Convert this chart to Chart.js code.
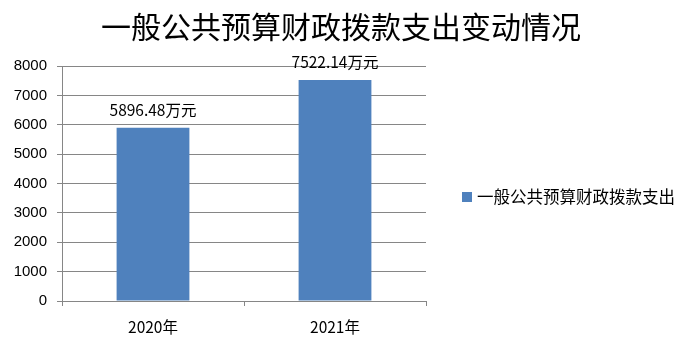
<!DOCTYPE html>
<html>
<head>
<meta charset="utf-8">
<script src="https://cdn.jsdelivr.net/npm/chart.js@4.4.0/dist/chart.umd.min.js"></script>
<style>
  html, body { margin: 0; padding: 0; background: #fff; }
  #wrap { width: 682px; height: 356px; }
</style>
</head>
<body>
<div id="wrap"><canvas id="chart" width="682" height="356"></canvas></div>
<script>
const titleText = '一般公共预算财政拨款支出变动情况';
const seriesName = '一般公共预算财政拨款支出';
const years = ['2020年', '2021年'];
const spending = [5896.48, 7522.14];
const valueLabels = ['5896.48万元', '7522.14万元'];

const fontFamily = '"Noto Sans CJK SC", "Liberation Sans", sans-serif';
const gridColor = '#868686';
const barColor = '#4F81BD';

// labels above each bar
const barLabels = {
  id: 'barLabels',
  afterDatasetsDraw(chart) {
    const ctx = chart.ctx;
    const meta = chart.getDatasetMeta(0);
    ctx.save();
    ctx.fillStyle = '#000';
    ctx.font = '15.5px ' + fontFamily;
    ctx.textAlign = 'center';
    ctx.textBaseline = 'middle';
    meta.data.forEach((bar, i) => {
      ctx.fillText(valueLabels[i], bar.x, bar.y - 18);
    });
    ctx.restore();
  }
};

// title centred on the whole canvas + legend on the right
// (the built-in legend gets squeezed to half width)
const titleAndLegend = {
  id: 'titleAndLegend',
  afterDraw(chart) {
    const ctx = chart.ctx;
    ctx.save();
    ctx.fillStyle = '#000';
    ctx.font = '30px ' + fontFamily;
    ctx.textAlign = 'center';
    ctx.textBaseline = 'middle';
    ctx.fillText(titleText, chart.width / 2, 27);

    const x = chart.chartArea.right + 36;
    const y = 197;
    ctx.fillStyle = barColor;
    ctx.fillRect(x, y - 5, 10, 10);
    ctx.fillStyle = '#000';
    ctx.font = '16.5px ' + fontFamily;
    ctx.textAlign = 'left';
    ctx.fillText(chart.data.datasets[0].label, x + 15, y);
    ctx.restore();
  }
};

new Chart(document.getElementById('chart').getContext('2d'), {
  type: 'bar',
  data: {
    labels: years,
    datasets: [{
      label: seriesName,
      data: spending,
      backgroundColor: barColor,
      borderWidth: 0,
      categoryPercentage: 1,
      barPercentage: 0.4
    }]
  },
  options: {
    responsive: false,
    animation: false,
    layout: {
      padding: { left: 0, right: 256, top: 66, bottom: 0 }
    },
    plugins: {
      title: { display: false },
      legend: { display: false },
      tooltip: { enabled: false }
    },
    scales: {
      x: {
        afterFit(scale) { scale.height = 55; },
        grid: {
          drawOnChartArea: false,
          drawTicks: true,
          tickLength: 5,
          color: gridColor
        },
        border: { color: gridColor },
        ticks: {
          color: '#000',
          font: { family: fontFamily, size: 15.5 },
          padding: 12
        }
      },
      y: {
        min: 0,
        max: 8000,
        afterFit(scale) { scale.width = 62; },
        grid: {
          color: gridColor,
          tickLength: 5
        },
        border: { color: gridColor },
        ticks: {
          stepSize: 1000,
          color: '#000',
          font: { family: '"Liberation Sans", sans-serif', size: 15 },
          padding: 10,
          callback: value => String(value)
        }
      }
    }
  },
  plugins: [barLabels, titleAndLegend]
});
</script>
</body>
</html>
